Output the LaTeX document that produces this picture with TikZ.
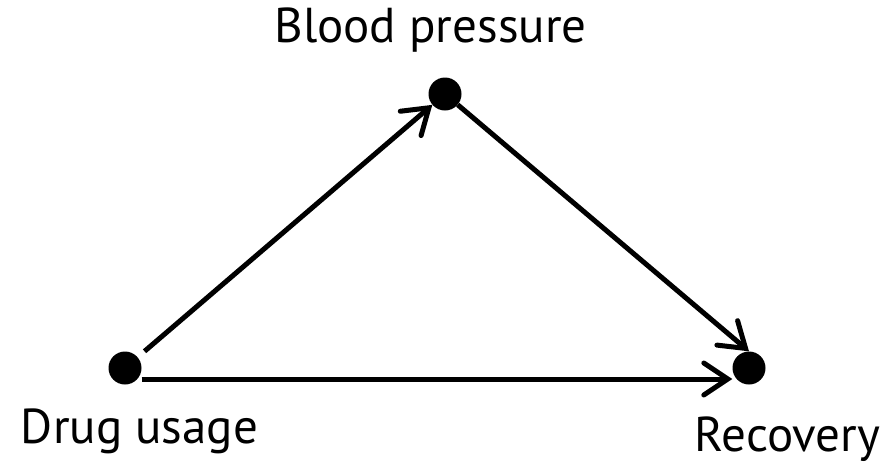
\documentclass[tikz,border=0pt]{standalone}
\usepackage{fontspec}
\setmainfont{PT Sans}
\usetikzlibrary{arrows.meta}

\begin{document}
\begin{tikzpicture}[x=1pt,y=-1pt,
  dot/.style={circle,fill=black,inner sep=0pt,minimum size=33pt},
  lbl/.style={anchor=base,font=\fontsize{49}{49}\selectfont},
  edge/.style={line width=5pt,-{Straight Barb[length=24pt,width=32pt,line cap=round]}}]
\useasboundingbox (0,0) rectangle (885,464);

% Nodes
\node[dot] (drug) at (125,368) {};
\node[dot] (bp) at (445,94) {};
\node[dot] (rec) at (749,368) {};

% Labels
\node[lbl] (bplbl) at (430.5,42) {Blood pressure};
\node[lbl] (druglbl) at (139.5,443) {Drug usage};
\node[lbl] (reclbl) at (787.5,451) {Recovery};

% Arrows
\draw[edge,shorten <=9pt] (drug) -- (bp);
\draw[edge] (bp) -- (rec.north);
\draw[edge] ([yshift=-11pt]drug.east) -- ([yshift=-11pt]rec.west);

\end{tikzpicture}
\end{document}
